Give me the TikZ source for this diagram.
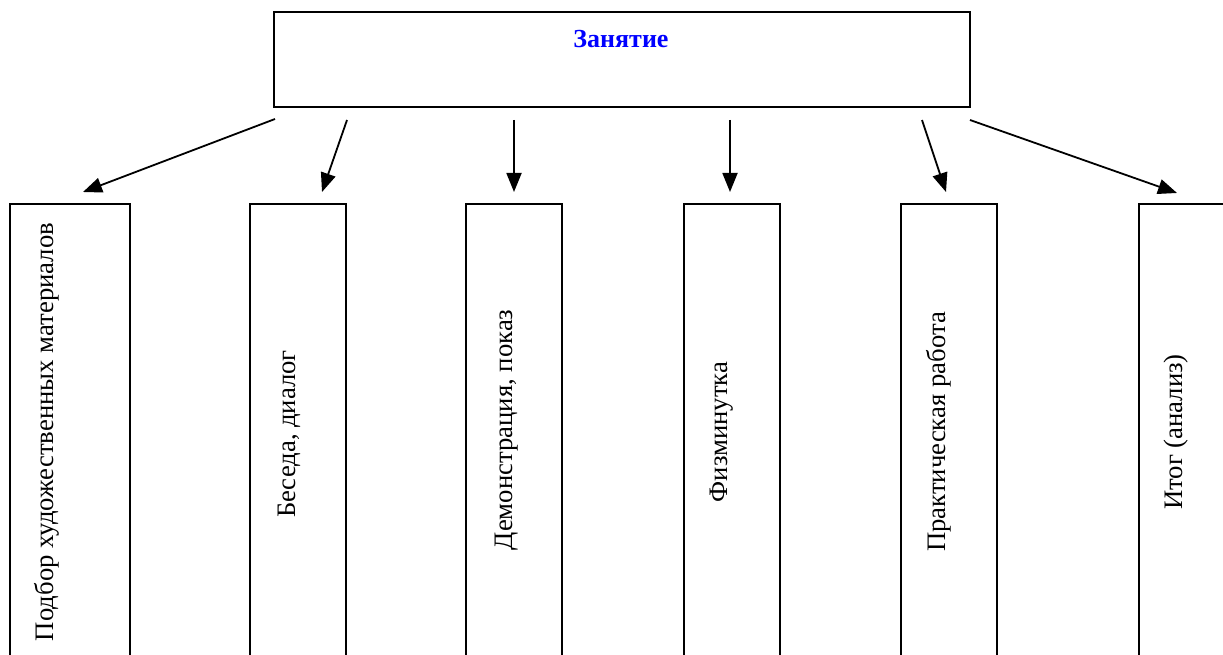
\documentclass[tikz,border=0pt]{standalone}
\usepackage{fontspec}
\setmainfont{Liberation Serif}
\usetikzlibrary{arrows.meta}
\definecolor{titleblue}{RGB}{0,0,255}
\tikzset{
  boxline/.style={draw=black, line width=2pt},
  vlabel/.style={rotate=90, inner sep=0pt, font=\fontsize{26.7}{30}\selectfont},
  arr/.style={line width=1.8pt, -{Triangle[length=19pt,width=15pt]}},
  titletext/.style={inner sep=0pt, anchor=base, text=titleblue, font=\fontsize{26}{30}\selectfont\bfseries}
}
\begin{document}
\begin{tikzpicture}[x=1pt,y=-1pt]
\useasboundingbox (0,0) rectangle (1223,655);
\clip (0,0) rectangle (1223,655);
\fill[white] (0,0) rectangle (1223,655);
% top box
\draw[boxline] (274,12) rectangle (970,107);
\node[titletext] (title) at (621,48) {Занятие};
% bottom boxes
\draw[boxline] (10,204) rectangle (130,680);
\draw[boxline] (250,204) rectangle (346,680);
\draw[boxline] (466,204) rectangle (562,680);
\draw[boxline] (684,204) rectangle (780,680);
\draw[boxline] (901,204) rectangle (997,680);
\draw[boxline] (1139,204) rectangle (1260,680);
% labels
\node[vlabel] (b1) at (47,432) {Подбор художественных материалов};
\node[vlabel] (b2) at (289,434) {Беседа, диалог};
\node[vlabel] (b3) at (507,430) {Демонстрация, показ};
\node[vlabel] (b4) at (722,432) {Физминутка};
\node[vlabel] (b5) at (939,432) {Практическая работа};
\node[vlabel] (b6) at (1176,432) {Итог (анализ)};
% arrow endpoints
\coordinate (s1) at (275,119); \coordinate (e1) at (83,192);
\coordinate (s2) at (347,120); \coordinate (e2) at (322,192);
\coordinate (s3) at (514,120); \coordinate (e3) at (514,192);
\coordinate (s4) at (730,120); \coordinate (e4) at (730,192);
\coordinate (s5) at (922,120); \coordinate (e5) at (946,192);
\coordinate (s6) at (970,120); \coordinate (e6) at (1177,193);
\foreach \i in {1,...,6} { \draw[arr] (s\i) -- (e\i); }
\end{tikzpicture}
\end{document}
